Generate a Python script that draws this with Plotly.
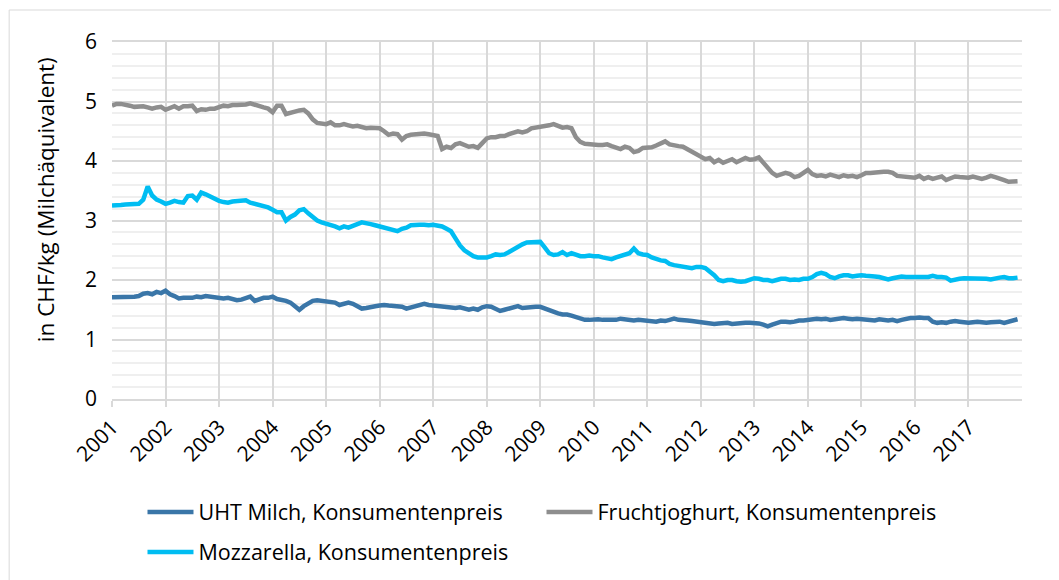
import plotly.graph_objects as go

years = list(range(2001, 2018))
tick_labels = [str(y) for y in years]
y_title = "in CHF/kg (Milchäquivalent)"

uht = [
    1.71, 1.71, 1.71, 1.72, 1.72, 1.72, 1.73, 1.77, 1.78, 1.76, 1.80, 1.78,  # 2001
    1.82, 1.76, 1.73, 1.69, 1.70, 1.70, 1.70, 1.72, 1.71, 1.73, 1.72, 1.71,  # 2002
    1.70, 1.69, 1.70, 1.68, 1.66, 1.67, 1.70, 1.72, 1.65, 1.68, 1.70, 1.70,  # 2003
    1.72, 1.68, 1.67, 1.65, 1.62, 1.55, 1.50, 1.56, 1.60, 1.65, 1.66, 1.65,  # 2004
    1.65, 1.64, 1.62, 1.58, 1.60, 1.62, 1.60, 1.56, 1.52, 1.53, 1.55, 1.56,  # 2005
    1.57, 1.58, 1.57, 1.56, 1.55, 1.55, 1.52, 1.54, 1.55, 1.58, 1.60, 1.58,  # 2006
    1.57, 1.56, 1.55, 1.55, 1.54, 1.53, 1.54, 1.52, 1.50, 1.52, 1.50, 1.54,  # 2007
    1.56, 1.55, 1.52, 1.48, 1.50, 1.52, 1.54, 1.56, 1.53, 1.54, 1.55, 1.55,  # 2008
    1.55, 1.52, 1.48, 1.45, 1.44, 1.42, 1.42, 1.40, 1.38, 1.35, 1.33, 1.33,  # 2009
    1.34, 1.34, 1.33, 1.33, 1.32, 1.33, 1.35, 1.34, 1.33, 1.32, 1.33, 1.32,  # 2010
    1.31, 1.31, 1.30, 1.32, 1.31, 1.33, 1.35, 1.33, 1.33, 1.32, 1.31, 1.30,  # 2011
    1.29, 1.28, 1.27, 1.26, 1.27, 1.28, 1.28, 1.26, 1.27, 1.27, 1.28, 1.28,  # 2012
    1.28, 1.27, 1.25, 1.22, 1.25, 1.28, 1.30, 1.30, 1.29, 1.30, 1.32, 1.32,  # 2013
    1.33, 1.34, 1.35, 1.34, 1.35, 1.33, 1.34, 1.36, 1.36, 1.35, 1.34, 1.35,  # 2014
    1.34, 1.33, 1.33, 1.32, 1.34, 1.33, 1.32, 1.33, 1.31, 1.33, 1.35, 1.36,  # 2015
    1.36, 1.37, 1.36, 1.36, 1.30, 1.28, 1.29, 1.28, 1.30, 1.31, 1.30, 1.29,  # 2016
    1.28, 1.29, 1.30, 1.29, 1.28, 1.29, 1.30, 1.30, 1.28, 1.30, 1.31, 1.34,  # 2017
]

frucht = [
    4.93, 4.96, 4.96, 4.95, 4.93, 4.91, 4.91, 4.92, 4.90, 4.88, 4.90, 4.91,  # 2001
    4.86, 4.90, 4.92, 4.88, 4.92, 4.92, 4.93, 4.84, 4.87, 4.86, 4.88, 4.88,  # 2002
    4.90, 4.93, 4.92, 4.94, 4.94, 4.94, 4.95, 4.97, 4.94, 4.93, 4.90, 4.88,  # 2003
    4.82, 4.93, 4.93, 4.79, 4.82, 4.83, 4.85, 4.86, 4.80, 4.70, 4.64, 4.63,  # 2004
    4.62, 4.65, 4.60, 4.60, 4.62, 4.60, 4.58, 4.59, 4.57, 4.55, 4.56, 4.55,  # 2005
    4.55, 4.50, 4.44, 4.46, 4.45, 4.36, 4.42, 4.44, 4.45, 4.45, 4.46, 4.45,  # 2006
    4.44, 4.42, 4.20, 4.24, 4.22, 4.28, 4.30, 4.27, 4.24, 4.25, 4.22, 4.30,  # 2007
    4.38, 4.40, 4.40, 4.42, 4.42, 4.45, 4.48, 4.50, 4.48, 4.50, 4.55, 4.56,  # 2008
    4.58, 4.58, 4.60, 4.62, 4.58, 4.56, 4.57, 4.55, 4.40, 4.32, 4.29, 4.28,  # 2009
    4.28, 4.27, 4.27, 4.28, 4.25, 4.22, 4.20, 4.24, 4.22, 4.15, 4.17, 4.22,  # 2010
    4.22, 4.23, 4.26, 4.30, 4.33, 4.28, 4.26, 4.25, 4.24, 4.20, 4.15, 4.10,  # 2011
    4.06, 4.03, 4.05, 3.98, 4.02, 3.97, 4.00, 4.03, 3.98, 4.02, 4.05, 4.02,  # 2012
    4.03, 4.06, 3.98, 3.90, 3.80, 3.75, 3.78, 3.80, 3.78, 3.73, 3.75, 3.80,  # 2013
    3.85, 3.78, 3.75, 3.76, 3.74, 3.77, 3.75, 3.73, 3.76, 3.74, 3.75, 3.73,  # 2014
    3.76, 3.80, 3.80, 3.81, 3.82, 3.82, 3.82, 3.80, 3.75, 3.74, 3.73, 3.72,  # 2015
    3.72, 3.75, 3.70, 3.73, 3.70, 3.72, 3.74, 3.68, 3.71, 3.74, 3.73, 3.73,  # 2016
    3.72, 3.74, 3.72, 3.70, 3.72, 3.75, 3.73, 3.71, 3.68, 3.65, 3.66, 3.66,  # 2017
]

mozz = [
    3.25, 3.25, 3.26, 3.27, 3.27, 3.27, 3.28, 3.35, 3.57, 3.42, 3.35, 3.32,  # 2001
    3.28, 3.30, 3.33, 3.31, 3.30, 3.41, 3.42, 3.35, 3.47, 3.44, 3.40, 3.36,  # 2002
    3.33, 3.31, 3.30, 3.32, 3.33, 3.34, 3.34, 3.30, 3.28, 3.27, 3.25, 3.22,  # 2003
    3.18, 3.14, 3.14, 3.00, 3.06, 3.10, 3.17, 3.19, 3.12, 3.05, 3.00, 2.97,  # 2004
    2.95, 2.93, 2.90, 2.87, 2.90, 2.88, 2.92, 2.94, 2.97, 2.96, 2.94, 2.92,  # 2005
    2.90, 2.88, 2.85, 2.84, 2.82, 2.86, 2.88, 2.92, 2.93, 2.93, 2.93, 2.92,  # 2006
    2.93, 2.92, 2.90, 2.86, 2.82, 2.70, 2.58, 2.50, 2.44, 2.40, 2.38, 2.38,  # 2007
    2.38, 2.40, 2.43, 2.42, 2.43, 2.47, 2.52, 2.56, 2.60, 2.63, 2.63, 2.64,  # 2008
    2.64, 2.55, 2.45, 2.42, 2.43, 2.47, 2.42, 2.45, 2.42, 2.40, 2.40, 2.41,  # 2009
    2.40, 2.40, 2.38, 2.36, 2.35, 2.38, 2.40, 2.42, 2.45, 2.53, 2.45, 2.43,  # 2010
    2.42, 2.38, 2.35, 2.33, 2.32, 2.27, 2.25, 2.24, 2.23, 2.22, 2.20, 2.22,  # 2011
    2.22, 2.20, 2.15, 2.08, 2.00, 1.98, 2.00, 2.00, 1.98, 1.97, 1.98, 2.00,  # 2012
    2.03, 2.02, 2.00, 2.00, 1.98, 2.00, 2.02, 2.02, 2.00, 2.01, 2.00, 2.02,  # 2013
    2.02, 2.05, 2.10, 2.12, 2.10, 2.05, 2.03, 2.06, 2.08, 2.08, 2.06, 2.07,  # 2014
    2.08, 2.07, 2.07, 2.06, 2.05, 2.03, 2.01, 2.03, 2.05, 2.06, 2.05, 2.05,  # 2015
    2.05, 2.05, 2.06, 2.05, 2.07, 2.05, 2.05, 2.04, 1.99, 2.01, 2.02, 2.03,  # 2016
    2.03, 2.03, 2.02, 2.03, 2.02, 2.01, 2.03, 2.04, 2.05, 2.03, 2.03, 2.04,  # 2017
]

series_names = [
    "UHT Milch, Konsumentenpreis",
    "Fruchtjoghurt, Konsumentenpreis",
    "Mozzarella, Konsumentenpreis",
]
colors = ["#3A76A8", "#8E8E8E", "#00BDF2"]

x = [y + m / 12 for y in years for m in range(12)]

FONT = "Open Sans"
fig = go.Figure()
for name, vals, col, lg in zip(series_names, [uht, frucht, mozz], colors,
                               ["legend", "legend", "legend2"]):
    fig.add_trace(go.Scatter(
        x=x, y=vals, mode="lines", name=name,
        line=dict(color=col, width=4.5), legend=lg,
    ))

fig.update_layout(
    width=1059, height=580,
    margin=dict(l=104, r=45, t=34, b=189),
    paper_bgcolor="white", plot_bgcolor="white",
    font=dict(family=FONT, size=19, color="#000000"),
    showlegend=True,
    legend=dict(
        orientation="h", x=0.127, y=0.131, xref="container", yref="container",
        xanchor="left", yanchor="middle",
        entrywidth=338, entrywidthmode="pixels", itemwidth=46,
        font=dict(family=FONT, size=21.5), bgcolor="rgba(0,0,0,0)",
    ),
    legend2=dict(
        orientation="h", x=0.127, y=0.062, xref="container", yref="container",
        xanchor="left", yanchor="middle",
        itemwidth=46, font=dict(family=FONT, size=21.5), bgcolor="rgba(0,0,0,0)",
    ),
    shapes=[dict(type="rect", xref="paper", yref="paper", x0=-0.113, x1=1.036,
                 y0=-0.6, y1=1.0896, line=dict(color="#D9D9D9", width=1), layer="below")],
    annotations=[dict(text=y_title, xref="paper", yref="paper", x=-0.0736, y=0.557,
                      xanchor="center", yanchor="middle", textangle=-90, showarrow=False,
                      font=dict(family=FONT, size=22.5, color="#000000"))],
)

fig.update_xaxes(
    range=[2001, 2018], automargin=False,
    tickvals=years, ticktext=tick_labels, tickangle=-45,
    tickfont=dict(family=FONT, size=21),
    showgrid=True, gridcolor="#D9D9D9", gridwidth=1.5,
    showline=True, mirror=True, linecolor="#D9D9D9", linewidth=1.5,
    ticks="outside", ticklen=6, tickcolor="#D9D9D9", tickwidth=1.5,
    zeroline=False,
)
fig.update_yaxes(
    range=[0, 6], dtick=1, tick0=0, automargin=False,
    tickfont=dict(family=FONT, size=21),
    showgrid=True, gridcolor="#D9D9D9", gridwidth=1.5,
    minor=dict(dtick=0.2, showgrid=True, gridcolor="#EFEFEF", gridwidth=1.5),
    zeroline=False, showline=False, ticks="",
    ticklabelstandoff=14,
)

fig.write_html("out.html")
